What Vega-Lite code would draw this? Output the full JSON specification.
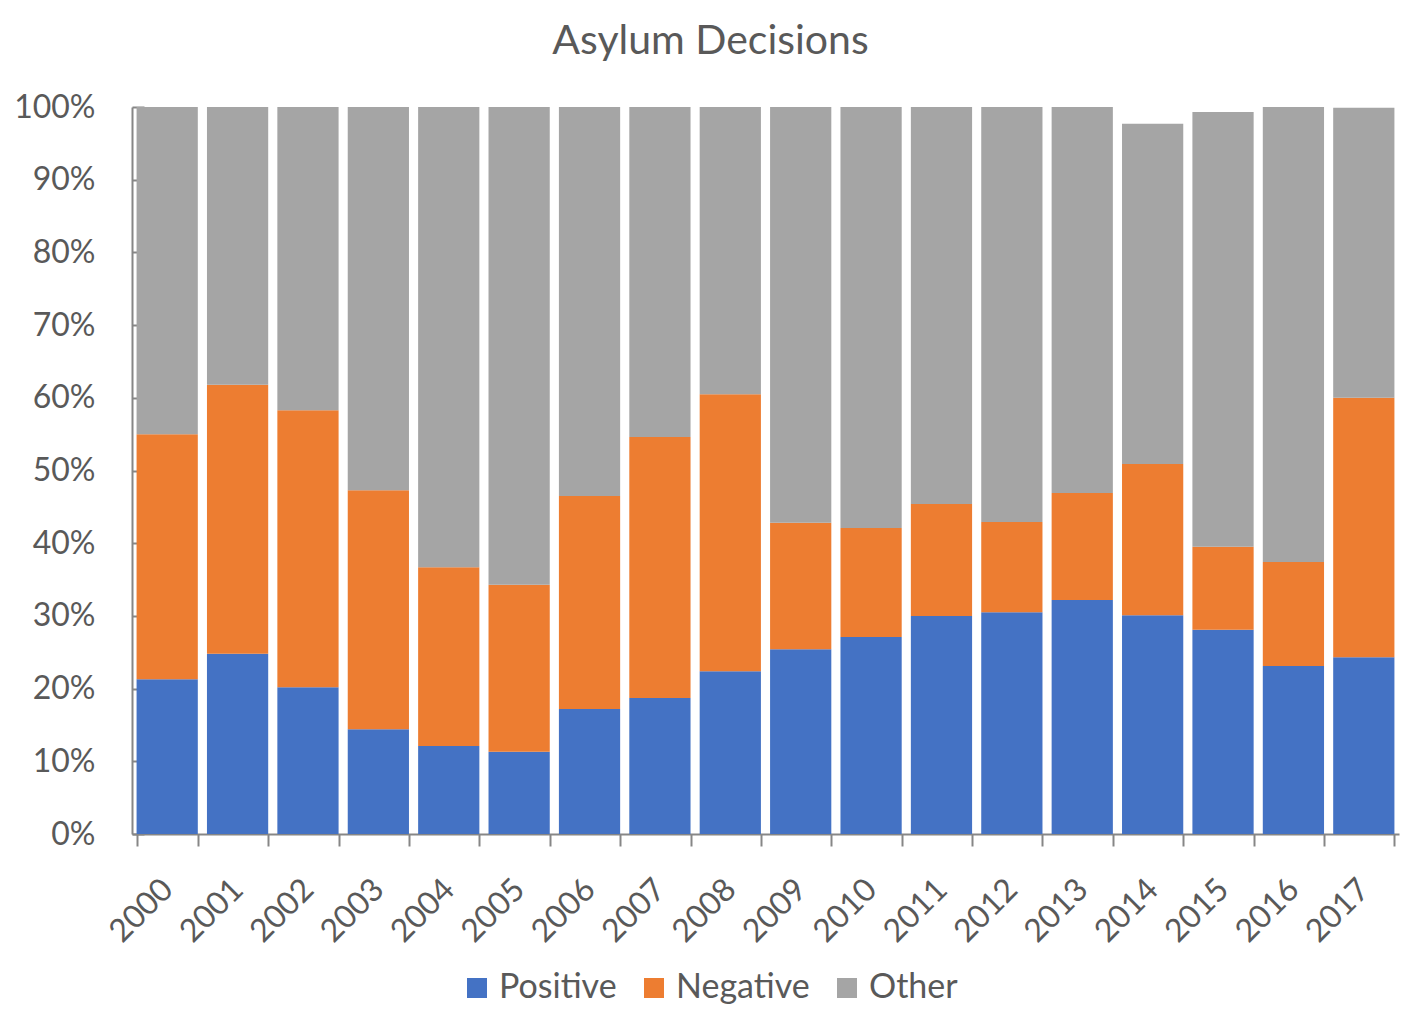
{
  "$schema": "https://vega.github.io/schema/vega-lite/v6.json",
  "width": 1267,
  "height": 727,
  "autosize": {"type": "none"},
  "padding": {"left": 132, "top": 107, "right": 21, "bottom": 193},
  "title": {
    "text": "Asylum Decisions",
    "font": "Lato",
    "fontSize": 41,
    "fontWeight": "normal",
    "color": "#595959",
    "dx": -55,
    "offset": 28
  },
  "data": {
    "values": [
      {"year": "2000", "Positive": 21.3, "Negative": 33.7, "Other": 45.0},
      {"year": "2001", "Positive": 24.8, "Negative": 37.0, "Other": 38.2},
      {"year": "2002", "Positive": 20.2, "Negative": 38.1, "Other": 41.7},
      {"year": "2003", "Positive": 14.4, "Negative": 32.9, "Other": 52.7},
      {"year": "2004", "Positive": 12.1, "Negative": 24.6, "Other": 63.3},
      {"year": "2005", "Positive": 11.3, "Negative": 23.0, "Other": 65.7},
      {"year": "2006", "Positive": 17.2, "Negative": 29.3, "Other": 53.5},
      {"year": "2007", "Positive": 18.7, "Negative": 35.9, "Other": 45.4},
      {"year": "2008", "Positive": 22.4, "Negative": 38.1, "Other": 39.5},
      {"year": "2009", "Positive": 25.4, "Negative": 17.4, "Other": 57.2},
      {"year": "2010", "Positive": 27.1, "Negative": 15.0, "Other": 57.9},
      {"year": "2011", "Positive": 30.0, "Negative": 15.4, "Other": 54.6},
      {"year": "2012", "Positive": 30.5, "Negative": 12.4, "Other": 57.1},
      {"year": "2013", "Positive": 32.2, "Negative": 14.7, "Other": 53.1},
      {"year": "2014", "Positive": 30.1, "Negative": 20.8, "Other": 46.8},
      {"year": "2015", "Positive": 28.1, "Negative": 11.4, "Other": 59.8},
      {"year": "2016", "Positive": 23.1, "Negative": 14.3, "Other": 62.6},
      {"year": "2017", "Positive": 24.3, "Negative": 35.7, "Other": 39.9}
    ]
  },
  "transform": [
    {"fold": ["Positive", "Negative", "Other"], "as": ["decision", "share"]},
    {"calculate": "indexof(['Positive', 'Negative', 'Other'], datum.decision)", "as": "stackOrder"}
  ],
  "mark": {"type": "bar"},
  "encoding": {
    "x": {
      "field": "year",
      "type": "nominal",
      "scale": {"paddingInner": 0.13, "paddingOuter": 0.065},
      "axis": {
        "title": null,
        "tickBand": "extent",
        "tickSize": 12,
        "tickColor": "#868686",
        "tickWidth": 2,
        "domainColor": "#868686",
        "domainWidth": 2,
        "labelAngle": -45,
        "labelAlign": "right",
        "labelBaseline": "middle",
        "labelPadding": 38,
        "labelFont": "Lato",
        "labelFontSize": 32,
        "labelColor": "#595959"
      }
    },
    "y": {
      "field": "share",
      "type": "quantitative",
      "stack": "zero",
      "scale": {"domain": [0, 100], "nice": false},
      "axis": {
        "title": null,
        "grid": false,
        "values": [0, 10, 20, 30, 40, 50, 60, 70, 80, 90, 100],
        "labelExpr": "datum.value + '%'",
        "tickSize": -12,
        "tickColor": "#868686",
        "tickWidth": 2,
        "domainColor": "#868686",
        "domainWidth": 2,
        "labelPadding": 49,
        "labelFont": "Lato",
        "labelFontSize": 32,
        "labelColor": "#595959"
      }
    },
    "color": {
      "field": "decision",
      "type": "nominal",
      "scale": {
        "domain": ["Positive", "Negative", "Other"],
        "range": ["#4472C4", "#ED7D31", "#A5A5A5"]
      },
      "legend": {
        "title": null,
        "orient": "none",
        "legendX": 328,
        "legendY": 864,
        "direction": "horizontal",
        "symbolType": "square",
        "symbolSize": 400,
        "symbolStrokeWidth": 0,
        "labelFont": "Lato",
        "labelFontSize": 34,
        "labelColor": "#595959",
        "labelOffset": 5,
        "columnPadding": 20
      }
    },
    "order": {"field": "stackOrder", "type": "quantitative"}
  },
  "config": {"view": {"stroke": null}}
}
